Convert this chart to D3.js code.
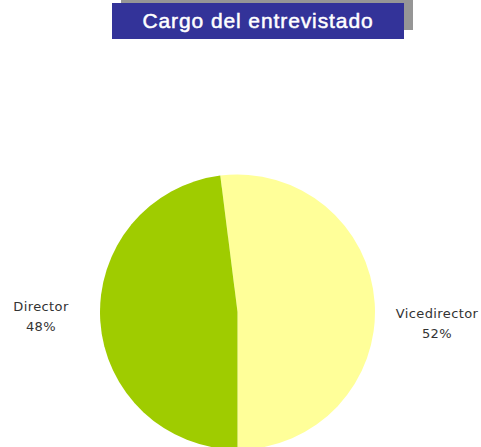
<!DOCTYPE html>
<html>
<head>
<meta charset="utf-8">
<script src="https://cdn.jsdelivr.net/npm/d3@7"></script>
<style>
  body { margin: 0; background: #fff; }
</style>
</head>
<body>
<div class="canvas"></div>
<script>
const dims = { width: 481, height: 447 };

const categories = ["Vicedirector", "Director"];
const values = [52, 48];
const sliceColors = ["#FFFF99", "#9FCC00"];
const title = "Cargo del entrevistado";

const svg = d3
  .select(".canvas")
  .append("svg")
  .attr("width", dims.width)
  .attr("height", dims.height);

// title box with grey shadow
svg.append("rect")
  .attr("x", 121).attr("y", -8)
  .attr("width", 292).attr("height", 38)
  .attr("fill", "#969696");
svg.append("rect")
  .attr("x", 112).attr("y", 3)
  .attr("width", 292).attr("height", 36)
  .attr("fill", "#333399");
svg.append("text")
  .attr("x", 258).attr("y", 28)
  .attr("text-anchor", "middle")
  .attr("fill", "#fff")
  .attr("stroke", "#fff")
  .attr("stroke-width", 0.5)
  .style("font-family", "Liberation Sans, Arial, sans-serif")
  .style("font-size", "21px")
  .style("letter-spacing", "0.9px")
  .text(title);

const cx = 237.5, cy = 312, r = 137.5;
const total = d3.sum(values);

// first slice ends at the bottom (pi)
const pie = d3.pie()
  .sort(null)
  .value((d) => d)
  .startAngle(Math.PI - 2 * Math.PI * values[0] / total)
  .endAngle(Math.PI - 2 * Math.PI * values[0] / total + 2 * Math.PI);

const arc = d3.arc().innerRadius(0).outerRadius(r);
const color = d3.scaleOrdinal().domain(categories).range(sliceColors);

const g = svg.append("g").attr("transform", `translate(${cx}, ${cy})`);

g.selectAll("path")
  .data(pie(values))
  .join("path")
  .attr("d", arc)
  .attr("fill", (d, i) => color(categories[i]));

// labels off to the sides
const labelPos = [
  { x: 437, y: 318 },
  { x: 41, y: 311 },
];

const labels = svg.append("g")
  .selectAll("text")
  .data(pie(values))
  .join("text")
  .attr("text-anchor", "middle")
  .attr("fill", "#333")
  .style("font-family", "DejaVu Sans, sans-serif")
  .style("font-size", "13px")
  .style("letter-spacing", "0.4px");

labels.append("tspan")
  .attr("x", (d, i) => labelPos[i].x)
  .attr("y", (d, i) => labelPos[i].y)
  .text((d, i) => categories[i]);
labels.append("tspan")
  .attr("x", (d, i) => labelPos[i].x)
  .attr("y", (d, i) => labelPos[i].y + 20)
  .text((d) => Math.round(d.data / total * 100) + "%");
</script>
</body>
</html>
